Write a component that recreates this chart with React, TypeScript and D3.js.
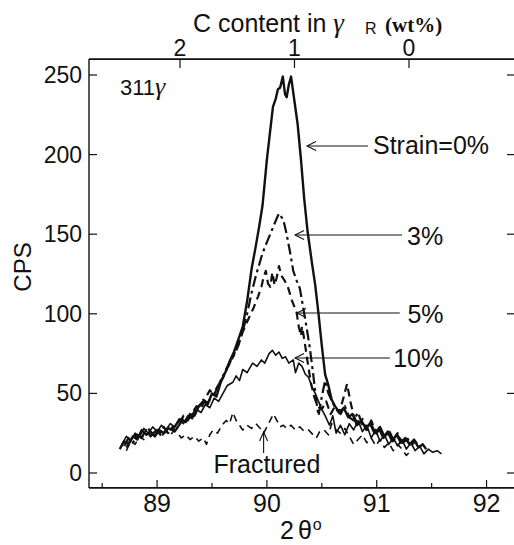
import React from 'react';
import * as d3 from 'd3';

type Pt = [number, number];

const strain0: Pt[] = [[88.66,15],[88.70,20],[88.74,18],[88.78,23],[88.82,21],[88.86,27],[88.90,24],[88.94,26],[88.98,23],[89.02,27],[89.06,25],[89.10,28],[89.14,27],[89.18,31],[89.22,34],[89.26,32],[89.30,37],[89.34,36],[89.38,42],[89.42,45],[89.46,43],[89.50,50],[89.54,48],[89.58,57],[89.62,63],[89.66,70],[89.70,76],[89.74,84],[89.78,92],[89.82,108],[89.86,128],[89.90,143],[89.93,155],[89.96,168],[90.00,197],[90.03,215],[90.055,230],[90.08,235],[90.10,241],[90.12,242],[90.145,249],[90.165,238],[90.18,236],[90.20,244],[90.22,249],[90.25,234],[90.28,219],[90.31,197],[90.34,172],[90.37,152],[90.41,132],[90.44,118],[90.47,100],[90.50,80],[90.53,62],[90.56,55],[90.59,46],[90.62,42],[90.66,38],[90.70,41],[90.74,35],[90.78,37],[90.82,30],[90.86,33],[90.90,28],[90.94,31],[90.98,25],[91.02,28],[91.06,22],[91.10,26],[91.14,20],[91.18,24],[91.22,19],[91.26,22],[91.30,18],[91.34,21],[91.38,16],[91.42,18],[91.45,15]];

const strain3: Pt[] = [[88.70,17],[88.74,22],[88.78,19],[88.82,24],[88.86,22],[88.90,27],[88.94,23],[88.98,26],[89.02,24],[89.06,29],[89.10,25],[89.14,29],[89.18,28],[89.22,32],[89.26,35],[89.30,33],[89.34,39],[89.38,41],[89.42,46],[89.46,44],[89.50,48],[89.54,53],[89.58,58],[89.62,64],[89.66,69],[89.70,74],[89.74,80],[89.78,89],[89.82,100],[89.86,113],[89.90,124],[89.93,131],[89.96,138],[90.00,145],[90.03,150],[90.06,155],[90.09,160],[90.11,163],[90.13,161],[90.15,159],[90.18,150],[90.21,139],[90.24,127],[90.27,121],[90.30,116],[90.33,104],[90.36,92],[90.39,79],[90.42,63],[90.45,45],[90.47,36],[90.50,48],[90.53,58],[90.56,50],[90.60,44],[90.63,40],[90.67,37],[90.71,42],[90.75,35],[90.79,33],[90.83,38],[90.87,30],[90.91,27],[90.95,33],[90.99,26],[91.03,29],[91.07,23],[91.11,27],[91.15,21],[91.19,25],[91.23,19],[91.27,23],[91.31,18],[91.35,20]];

const strain5: Pt[] = [[88.72,16],[88.76,21],[88.80,24],[88.84,20],[88.88,25],[88.92,28],[88.96,24],[89.00,27],[89.04,23],[89.08,27],[89.12,29],[89.16,26],[89.20,30],[89.24,36],[89.28,33],[89.32,38],[89.36,42],[89.40,40],[89.44,47],[89.48,52],[89.52,49],[89.56,56],[89.60,60],[89.64,66],[89.68,71],[89.72,78],[89.76,85],[89.80,92],[89.84,98],[89.88,104],[89.92,111],[89.95,117],[89.97,123],[89.99,127],[90.01,119],[90.03,117],[90.05,126],[90.07,118],[90.09,123],[90.11,130],[90.13,124],[90.16,121],[90.19,117],[90.23,108],[90.27,101],[90.29,92],[90.31,86],[90.32,92],[90.34,84],[90.37,70],[90.40,57],[90.43,48],[90.46,42],[90.50,40],[90.54,45],[90.58,37],[90.62,42],[90.66,38],[90.70,48],[90.73,56],[90.76,45],[90.79,36],[90.83,30],[90.87,34],[90.91,27],[90.95,31],[90.99,24],[91.03,28],[91.07,23],[91.11,25],[91.15,20],[91.19,24],[91.23,18],[91.27,21],[91.31,17],[91.35,20],[91.39,16]];

const strain10: Pt[] = [[88.68,18],[88.72,23],[88.76,20],[88.80,25],[88.84,23],[88.88,28],[88.92,25],[88.96,29],[89.00,26],[89.04,30],[89.08,27],[89.12,31],[89.16,29],[89.20,34],[89.24,31],[89.28,36],[89.32,34],[89.36,40],[89.40,38],[89.44,43],[89.48,41],[89.52,47],[89.56,45],[89.60,50],[89.64,55],[89.69,57],[89.72,61],[89.75,58],[89.78,65],[89.82,63],[89.87,69],[89.91,67],[89.95,71],[89.98,69],[90.02,75],[90.05,77],[90.08,74],[90.11,76],[90.14,72],[90.17,73],[90.20,69],[90.24,71],[90.26,63],[90.29,69],[90.32,67],[90.35,62],[90.38,60],[90.41,54],[90.44,50],[90.47,45],[90.50,40],[90.53,36],[90.57,30],[90.60,36],[90.63,25],[90.67,30],[90.71,24],[90.75,31],[90.79,27],[90.83,33],[90.87,26],[90.91,30],[90.95,22],[90.99,27],[91.03,20],[91.07,24],[91.11,18],[91.15,22],[91.19,17],[91.23,21],[91.27,15],[91.31,19],[91.35,14],[91.39,17],[91.43,12],[91.47,15],[91.51,13],[91.55,14],[91.59,12]];

const fractured: Pt[] = [[88.72,14],[88.76,20],[88.80,18],[88.84,23],[88.88,21],[88.92,25],[88.96,22],[89.00,26],[89.04,23],[89.08,26],[89.12,24],[89.16,27],[89.19,25],[89.22,22],[89.26,24],[89.30,21],[89.34,23],[89.38,20],[89.42,22],[89.45,18],[89.48,24],[89.51,27],[89.55,25],[89.59,30],[89.63,33],[89.66,31],[89.69,38],[89.72,33],[89.75,30],[89.78,27],[89.82,30],[89.86,28],[89.90,31],[89.94,28],[89.97,25],[90.00,29],[90.03,33],[90.06,37],[90.09,33],[90.12,29],[90.15,30],[90.18,28],[90.22,30],[90.26,27],[90.30,29],[90.34,26],[90.38,27],[90.42,24],[90.45,22],[90.48,26],[90.52,27],[90.56,24],[90.59,31],[90.63,27],[90.67,25],[90.71,28],[90.75,23],[90.79,18],[90.83,21],[90.87,24],[90.91,19],[90.95,22],[90.99,17],[91.03,21],[91.07,16],[91.11,19],[91.15,14],[91.19,18],[91.23,15],[91.27,11],[91.31,14]];

const xMajorTicks = [89, 90, 91, 92];
const xMinorTicks = [88.5, 89.5, 90.5, 91.5];
const yTicks = [0, 50, 100, 150, 200, 250];
const cTicks = [2, 1, 0];

const FONT = "'Liberation Sans', Arial, Helvetica, sans-serif";
const SERIF = "'Liberation Serif', 'Times New Roman', serif";

export default function App() {
  const W = 514, H = 545;
  const x = d3.scaleLinear().domain([88.38, 92.25]).range([89, 514]);
  const y = d3.scaleLinear().domain([0, 250]).range([473, 75]);
  const c = d3.scaleLinear().domain([2, 0]).range([180, 409]);
  const left = x(88.38), right = x(92.25) + 1;
  const top = y(260), bottom = y(-9.4);

  const line = d3.line<Pt>().x(d => x(d[0])).y(d => y(d[1]));

  const series = [
    { data: fractured, w: 1.6, dash: '7,5' },
    { data: strain10, w: 1.6, dash: null },
    { data: strain5, w: 2.2, dash: '8,5' },
    { data: strain3, w: 2.2, dash: '11,4,3,4' },
    { data: strain0, w: 2.4, dash: null },
  ];

  const annos = [
    { label: 'Strain=0%', tx: 90.365, ty: 205.4, ex: 90.92, lx: 90.966, ly: 200.5 },
    { label: '3%', tx: 90.256, ty: 149.5, ex: 91.23, lx: 91.276, ly: 143.5 },
    { label: '5%', tx: 90.274, ty: 100.5, ex: 91.21, lx: 91.28, ly: 94.5 },
    { label: '10%', tx: 90.256, ty: 72.2, ex: 91.12, lx: 91.15, ly: 66.5 },
  ];

  const arrowHead = (px: number, py: number) =>
    `M${px + 9},${py - 4.5} L${px},${py} L${px + 9},${py + 4.5}`;

  return (
    <svg width={W} height={H} style={{ position: 'absolute', left: 0, top: 0, background: '#fff' }}
      fontFamily={FONT}>
      <rect x={0} y={0} width={W} height={H} fill="#fff" />
      {/* frame */}
      <line x1={left} x2={left} y1={top} y2={bottom} stroke="#111" strokeWidth={1.4} />
      <line x1={left} x2={right} y1={top} y2={top} stroke="#111" strokeWidth={1.6} />
      <line x1={left} x2={right} y1={bottom} y2={bottom} stroke="#111" strokeWidth={1.8} />
      <line x1={right} x2={right} y1={top} y2={bottom} stroke="#111" strokeWidth={1.4} />

      {/* y ticks */}
      {yTicks.map(t => (
        <g key={'y' + t}>
          <line x1={left} x2={left + 8} y1={y(t)} y2={y(t)} stroke="#111" strokeWidth={1.2} />
          <line x1={right - 8} x2={right} y1={y(t)} y2={y(t)} stroke="#111" strokeWidth={1.2} />
          <text x={82} y={y(t)} dy="0.35em" textAnchor="end" fontSize={23} fill="#111">{t}</text>
        </g>
      ))}

      {/* x ticks */}
      {xMajorTicks.map(t => (
        <g key={'x' + t}>
          <line x1={x(t)} x2={x(t)} y1={bottom} y2={bottom - 8} stroke="#111" strokeWidth={1.2} />
          <text x={x(t)} y={512} textAnchor="middle" fontSize={25} fill="#111">{t}</text>
        </g>
      ))}
      {xMinorTicks.map(t => (
        <line key={'xm' + t} x1={x(t)} x2={x(t)} y1={bottom} y2={bottom - 5} stroke="#111" strokeWidth={1.2} />
      ))}

      {/* top C-content axis */}
      {cTicks.map(t => (
        <g key={'c' + t}>
          <line x1={c(t)} x2={c(t)} y1={top} y2={top + 9} stroke="#111" strokeWidth={1.2} />
          <text x={c(t)} y={56} textAnchor="middle" fontSize={23} fill="#111">{t}</text>
        </g>
      ))}
      <text x={193} y={32} fontSize={25} fill="#111">
        <tspan>C content in </tspan>
        <tspan fontFamily={SERIF} fontStyle="italic" fontSize={27}>γ</tspan>
        <tspan x={365} fontSize={16} dy={2}>R</tspan>
        <tspan x={385} dy={-2} fontFamily={SERIF} fontWeight="bold" fontSize={21}>(wt%)</tspan>
      </text>

      {/* axis titles */}
      <text transform={`translate(31,267) rotate(-90)`} textAnchor="middle" fontSize={24} fill="#111">CPS</text>
      <text x={280} y={539} fontSize={25} fill="#111">
        <tspan>2</tspan>
        <tspan dx={4}>θ</tspan>
        <tspan dx={1} dy={-9} fontSize={16}>o</tspan>
      </text>

      <text x={120} y={95} fontSize={22} fill="#111">
        <tspan>311</tspan>
        <tspan fontFamily={SERIF} fontStyle="italic" fontSize={26}>γ</tspan>
      </text>

      {/* curves */}
      {series.map((s, i) => (
        <path key={i} d={line(s.data) || ''} fill="none" stroke="#111" strokeWidth={s.w}
          strokeDasharray={s.dash || undefined} strokeLinejoin="round" />
      ))}

      {/* annotations */}
      {annos.map(a => (
        <g key={a.label}>
          <line x1={x(a.tx)} x2={x(a.ex)} y1={y(a.ty)} y2={y(a.ty)} stroke="#111" strokeWidth={1.1} />
          <path d={arrowHead(x(a.tx), y(a.ty))} fill="none" stroke="#111" strokeWidth={1.1} />
          <text x={x(a.lx)} y={y(a.ly)} fontSize={25} fill="#111">{a.label}</text>
        </g>
      ))}
      <g>
        <line x1={x(89.97)} x2={x(89.97)} y1={y(25.8)} y2={y(12.6)} stroke="#111" strokeWidth={1.1} />
        <path d={`M${x(89.97) - 4},${y(25.8) + 9} L${x(89.97)},${y(25.8)} L${x(89.97) + 4},${y(25.8) + 9}`}
          fill="none" stroke="#111" strokeWidth={1.1} />
        <text x={x(90.0)} y={y(0)} textAnchor="middle" fontSize={25} fill="#111">Fractured</text>
      </g>
    </svg>
  );
}
